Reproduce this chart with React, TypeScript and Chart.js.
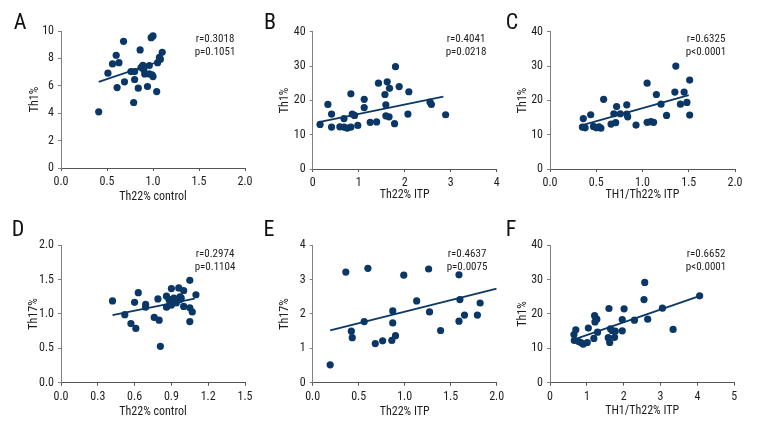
import React, { useEffect, useRef } from "react";
import { Chart, registerables } from "chart.js";

Chart.register(...registerables);

const FONT = "'Liberation Sans Narrow', 'Roboto Condensed', Roboto, 'Liberation Sans', sans-serif";
const DOT = "#0b3766";
const TEXT = "#1e1e1e";

// ---- Panel A: Th22% control vs Th1% ----
const aX = [0.41, 0.51, 0.56, 0.6, 0.61, 0.63, 0.68, 0.69, 0.76, 0.79, 0.8, 0.8, 0.84, 0.86, 0.87, 0.89, 0.9, 0.91, 0.94, 0.96, 0.96, 0.98, 1.0, 0.99, 1.0, 1.04, 1.05, 1.07, 1.08, 1.1];
const aY = [4.1, 6.92, 7.6, 8.23, 5.87, 7.69, 9.25, 6.29, 7.04, 4.78, 7.04, 6.46, 5.83, 8.62, 7.33, 7.5, 7.18, 6.87, 5.95, 6.87, 7.48, 9.51, 9.64, 6.8, 6.67, 5.58, 7.69, 8.08, 7.94, 8.45];
const aFitX = [0.41, 1.09];
const aFitY = [6.28, 7.83];
const aXTicks = [0, 0.5, 1.0, 1.5, 2.0];
const aYTicks = [0, 2, 4, 6, 8, 10];

// ---- Panel B: Th22% ITP vs Th1% ----
const bX = [0.16, 0.33, 0.41, 0.41, 0.59, 0.68, 0.68, 0.75, 0.83, 0.83, 0.86, 0.91, 0.98, 1.12, 1.12, 1.25, 1.39, 1.43, 1.57, 1.59, 1.59, 1.62, 1.66, 1.67, 1.78, 1.8, 1.88, 2.07, 2.09, 2.55, 2.58, 2.89];
const bY = [13.0, 18.8, 16.0, 12.2, 12.3, 12.2, 14.7, 11.9, 21.9, 12.2, 16.0, 15.6, 12.7, 20.3, 17.9, 13.6, 13.7, 25.0, 21.7, 18.7, 15.5, 25.4, 15.2, 23.5, 13.2, 29.8, 24.0, 16.0, 22.5, 19.5, 18.8, 15.8];
const bFitX = [0.16, 2.84];
const bFitY = [13.7, 21.1];
const bXTicks = [0, 1, 2, 3, 4];
const bYTicks = [0, 10, 20, 30, 40];

// ---- Panel C: TH1/Th22% ITP vs Th1% ----
const cX = [0.36, 0.35, 0.38, 0.44, 0.47, 0.5, 0.53, 0.55, 0.58, 0.66, 0.69, 0.71, 0.72, 0.76, 0.83, 0.83, 0.84, 0.93, 1.05, 1.05, 1.09, 1.12, 1.15, 1.2, 1.26, 1.35, 1.36, 1.41, 1.45, 1.48, 1.51, 1.51];
const cY = [14.7, 12.2, 12.0, 15.8, 12.4, 12.0, 12.3, 11.9, 20.3, 13.1, 16.1, 13.5, 18.2, 16.1, 18.7, 16.0, 15.2, 12.8, 25.0, 13.6, 13.8, 13.6, 21.7, 18.9, 15.6, 22.4, 30.0, 18.9, 22.4, 19.4, 25.9, 15.7];
const cFitX = [0.35, 1.5];
const cFitY = [12.8, 21.5];
const cXTicks = [0, 0.5, 1.0, 1.5, 2.0];
const cYTicks = [0, 10, 20, 30, 40];

// ---- Panel D: Th22% control vs Th17% ----
const dX = [0.42, 0.52, 0.57, 0.6, 0.61, 0.63, 0.69, 0.69, 0.76, 0.79, 0.8, 0.81, 0.86, 0.86, 0.88, 0.89, 0.9, 0.9, 0.91, 0.92, 0.94, 0.96, 0.97, 0.97, 0.98, 1.0, 1.0, 1.05, 1.05, 1.05, 1.07, 1.1];
const dY = [1.19, 0.99, 0.86, 1.17, 0.79, 1.31, 1.14, 1.1, 0.95, 1.22, 0.91, 0.53, 1.1, 1.26, 1.21, 1.17, 1.13, 1.37, 1.21, 1.23, 1.16, 1.38, 1.25, 1.21, 1.23, 1.34, 1.11, 1.09, 1.49, 0.89, 1.03, 1.28];
const dFitX = [0.42, 1.09];
const dFitY = [0.985, 1.223];
const dXTicks = [0, 0.3, 0.6, 0.9, 1.2, 1.5];
const dYTicks = [0, 0.5, 1.0, 1.5, 2.0];

// ---- Panel E: Th22% ITP vs Th17% ----
const eX = [0.19, 0.36, 0.42, 0.43, 0.56, 0.6, 0.68, 0.76, 0.86, 0.87, 0.87, 0.9, 0.99, 1.13, 1.26, 1.27, 1.39, 1.59, 1.6, 1.59, 1.65, 1.79, 1.82];
const eY = [0.52, 3.22, 1.5, 1.31, 1.78, 3.33, 1.14, 1.22, 1.23, 2.09, 1.74, 1.37, 3.13, 2.38, 3.31, 2.06, 1.52, 3.14, 2.42, 1.79, 1.97, 1.97, 2.32];
const eFitX = [0.19, 2.0];
const eFitY = [1.52, 2.74];
const eXTicks = [0, 0.5, 1.0, 1.5, 2.0];
const eYTicks = [0, 1, 2, 3, 4];

// ---- Panel F: TH1/Th22% ITP vs Th1% ----
const fX = [0.65, 0.66, 0.7, 0.78, 0.84, 0.9, 1.01, 1.04, 1.19, 1.21, 1.22, 1.27, 1.29, 1.6, 1.58, 1.62, 1.64, 1.68, 1.75, 1.77, 1.96, 1.96, 2.01, 2.29, 2.55, 2.57, 2.65, 3.05, 3.34, 4.06];
const fY = [14.0, 12.3, 15.4, 12.0, 11.7, 11.2, 11.7, 15.9, 12.9, 19.5, 17.7, 18.5, 14.7, 21.6, 13.1, 11.7, 15.7, 15.2, 13.2, 15.0, 18.4, 15.1, 21.5, 18.2, 24.2, 29.2, 18.5, 21.7, 15.5, 25.3];
const fFitX = [0.68, 4.05];
const fFitY = [12.7, 25.2];
const fXTicks = [0, 1, 2, 3, 4, 5];
const fYTicks = [0, 10, 20, 30, 40];

type PanelCfg = {
  letter: string;
  r: string;
  p: string;
  xs: number[];
  ys: number[];
  fitX: number[];
  fitY: number[];
  xTicks: number[];
  yTicks: number[];
  xDec: number;
  yDec: number;
  xTitle: string;
  yTitle: string;
  box: { left: number; top: number; width: number; height: number };
  area: { left: number; right: number; top: number; bottom: number };
  yTitleX: number;
  xTitleY: number;
  letterPos: [number, number];
  textPos: [number, number];
};

const TOP_H = 222;
const BOT_TOP = 212;
const BOT_H = 232;

const PANELS: PanelCfg[] = [
  {
    letter: "A", r: "r=0.3018", p: "p=0.1051", xs: aX, ys: aY, fitX: aFitX, fitY: aFitY,
    xTicks: aXTicks, yTicks: aYTicks, xDec: 1, yDec: 0, xTitle: "Th22% control", yTitle: "Th1%",
    box: { left: 0, top: 0, width: 260, height: TOP_H },
    area: { left: 61, right: 245, top: 31, bottom: 168 },
    yTitleX: 35, xTitleY: 197, letterPos: [20, 28.5], textPos: [215, 39],
  },
  {
    letter: "B", r: "r=0.4041", p: "p=0.0218", xs: bX, ys: bY, fitX: bFitX, fitY: bFitY,
    xTicks: bXTicks, yTicks: bYTicks, xDec: 0, yDec: 0, xTitle: "Th22% ITP", yTitle: "Th1%",
    box: { left: 250, top: 0, width: 260, height: TOP_H },
    area: { left: 62.7, right: 246.7, top: 31.7, bottom: 169 },
    yTitleX: 35, xTitleY: 195, letterPos: [20, 28.5], textPos: [216, 39],
  },
  {
    letter: "C", r: "r=0.6325", p: "p<0.0001", xs: cX, ys: cY, fitX: cFitX, fitY: cFitY,
    xTicks: cXTicks, yTicks: cYTicks, xDec: 1, yDec: 0, xTitle: "TH1/Th22% ITP", yTitle: "Th1%",
    box: { left: 500, top: 0, width: 268, height: TOP_H },
    area: { left: 50, right: 235, top: 31.7, bottom: 169 },
    yTitleX: 22.7, xTitleY: 195, letterPos: [12, 28.5], textPos: [206, 39],
  },
  {
    letter: "D", r: "r=0.2974", p: "p=0.1104", xs: dX, ys: dY, fitX: dFitX, fitY: dFitY,
    xTicks: dXTicks, yTicks: dYTicks, xDec: 1, yDec: 1, xTitle: "Th22% control", yTitle: "Th17%",
    box: { left: 0, top: BOT_TOP, width: 260, height: BOT_H },
    area: { left: 61, right: 245, top: 33.3, bottom: 170.7 },
    yTitleX: 34, xTitleY: 200, letterPos: [18, 23.5], textPos: [215, 42],
  },
  {
    letter: "E", r: "r=0.4637", p: "p=0.0075", xs: eX, ys: eY, fitX: eFitX, fitY: eFitY,
    xTicks: eXTicks, yTicks: eYTicks, xDec: 1, yDec: 0, xTitle: "Th22% ITP", yTitle: "Th17%",
    box: { left: 250, top: BOT_TOP, width: 260, height: BOT_H },
    area: { left: 62.7, right: 246.7, top: 33.3, bottom: 170.7 },
    yTitleX: 35, xTitleY: 200, letterPos: [19, 23.5], textPos: [217, 42],
  },
  {
    letter: "F", r: "r=0.6652", p: "p<0.0001", xs: fX, ys: fY, fitX: fFitX, fitY: fFitY,
    xTicks: fXTicks, yTicks: fYTicks, xDec: 0, yDec: 0, xTitle: "TH1/Th22% ITP", yTitle: "Th1%",
    box: { left: 500, top: BOT_TOP, width: 268, height: BOT_H },
    area: { left: 50, right: 234.3, top: 33.3, bottom: 170.7 },
    yTitleX: 22.7, xTitleY: 199, letterPos: [11, 23.5], textPos: [206, 42],
  },
];

const TICK_SIZE = 12;
const TITLE_SIZE = 12;

function Panel({ cfg }: { cfg: PanelCfg }) {
  const ref = useRef<HTMLCanvasElement | null>(null);

  useEffect(() => {
    const canvas = ref.current;
    if (!canvas) return;
    const { box, area } = cfg;
    const lineH = TITLE_SIZE * 1.2;

    const labelPlugin = {
      id: "panelLabels",
      afterDraw(chart: any) {
        const ctx = chart.ctx;
        ctx.save();
        ctx.fillStyle = "#111";
        ctx.font = `22px ${FONT}`;
        ctx.textAlign = "center";
        ctx.textBaseline = "alphabetic";
        ctx.fillText(cfg.letter, cfg.letterPos[0], cfg.letterPos[1]);
        ctx.fillStyle = TEXT;
        ctx.font = `11px ${FONT}`;
        ctx.textBaseline = "middle";
        ctx.fillText(cfg.r, cfg.textPos[0], cfg.textPos[1]);
        ctx.fillText(cfg.p, cfg.textPos[0], cfg.textPos[1] + 13);
        ctx.restore();
      },
    };

    const chart = new Chart(canvas, {
      type: "scatter",
      data: {
        datasets: [
          {
            data: cfg.xs.map((x, i) => ({ x, y: cfg.ys[i] })),
            backgroundColor: DOT,
            borderColor: DOT,
            pointRadius: 3.6,
            pointHoverRadius: 3.6,
            borderWidth: 0,
          },
          {
            data: cfg.fitX.map((x, i) => ({ x, y: cfg.fitY[i] })),
            showLine: true,
            borderColor: DOT,
            borderWidth: 1.8,
            pointRadius: 0,
            fill: false,
          } as any,
        ],
      },
      options: {
        animation: false,
        responsive: false,
        maintainAspectRatio: false,
        events: [],
        layout: {
          padding: { left: 0, top: area.top, right: box.width - area.right, bottom: 0 },
        },
        plugins: { legend: { display: false }, tooltip: { enabled: false } },
        scales: {
          x: {
            type: "linear",
            min: cfg.xTicks[0],
            max: cfg.xTicks[cfg.xTicks.length - 1],
            afterBuildTicks: (s: any) => {
              s.ticks = cfg.xTicks.map((v) => ({ value: v }));
            },
            afterFit: (s: any) => {
              s.height = box.height - area.bottom;
              s.paddingLeft = 0;
              s.paddingRight = 0;
              s.paddingTop = 0;
              s.paddingBottom = 0;
            },
            border: { display: true, color: "#555", width: 1 },
            grid: { drawOnChartArea: false, drawTicks: true, tickLength: 3, color: "#555" },
            ticks: {
              padding: 4,
              color: TEXT,
              font: { family: FONT, size: TICK_SIZE },
              maxRotation: 0,
              autoSkip: false,
              callback: (v: any) => Number(v).toFixed(cfg.xDec),
            },
            title: {
              display: true,
              text: cfg.xTitle,
              color: TEXT,
              font: { family: FONT, size: TITLE_SIZE },
              padding: { top: 0, bottom: box.height - cfg.xTitleY - lineH / 2 },
            },
          },
          y: {
            type: "linear",
            min: cfg.yTicks[0],
            max: cfg.yTicks[cfg.yTicks.length - 1],
            afterBuildTicks: (s: any) => {
              s.ticks = cfg.yTicks.map((v) => ({ value: v }));
            },
            afterFit: (s: any) => {
              s.width = area.left;
              s.paddingLeft = 0;
              s.paddingRight = 0;
              s.paddingTop = 0;
              s.paddingBottom = 0;
            },
            border: { display: true, color: "#808080", width: 1 },
            grid: { drawOnChartArea: false, drawTicks: true, tickLength: 3, color: "#808080" },
            ticks: {
              padding: 4,
              color: TEXT,
              font: { family: FONT, size: TICK_SIZE },
              autoSkip: false,
              callback: (v: any) => Number(v).toFixed(cfg.yDec),
            },
            title: {
              display: true,
              text: cfg.yTitle,
              color: TEXT,
              font: { family: FONT, size: TITLE_SIZE },
              padding: { top: cfg.yTitleX - lineH / 2, bottom: 0 },
            },
          },
        },
      },
      plugins: [labelPlugin],
    });

    return () => chart.destroy();
  }, [cfg]);

  return (
    <canvas
      ref={ref}
      width={cfg.box.width}
      height={cfg.box.height}
      style={{
        position: "absolute",
        left: cfg.box.left,
        top: cfg.box.top,
        width: cfg.box.width,
        height: cfg.box.height,
      }}
    />
  );
}

export default function App() {
  useEffect(() => {
    document.body.style.margin = "0";
    document.body.style.background = "#fff";
  }, []);
  return (
    <div style={{ position: "relative", width: 768, height: 444, background: "#fff", overflow: "hidden" }}>
      {PANELS.map((cfg) => (
        <Panel key={cfg.letter} cfg={cfg} />
      ))}
    </div>
  );
}
